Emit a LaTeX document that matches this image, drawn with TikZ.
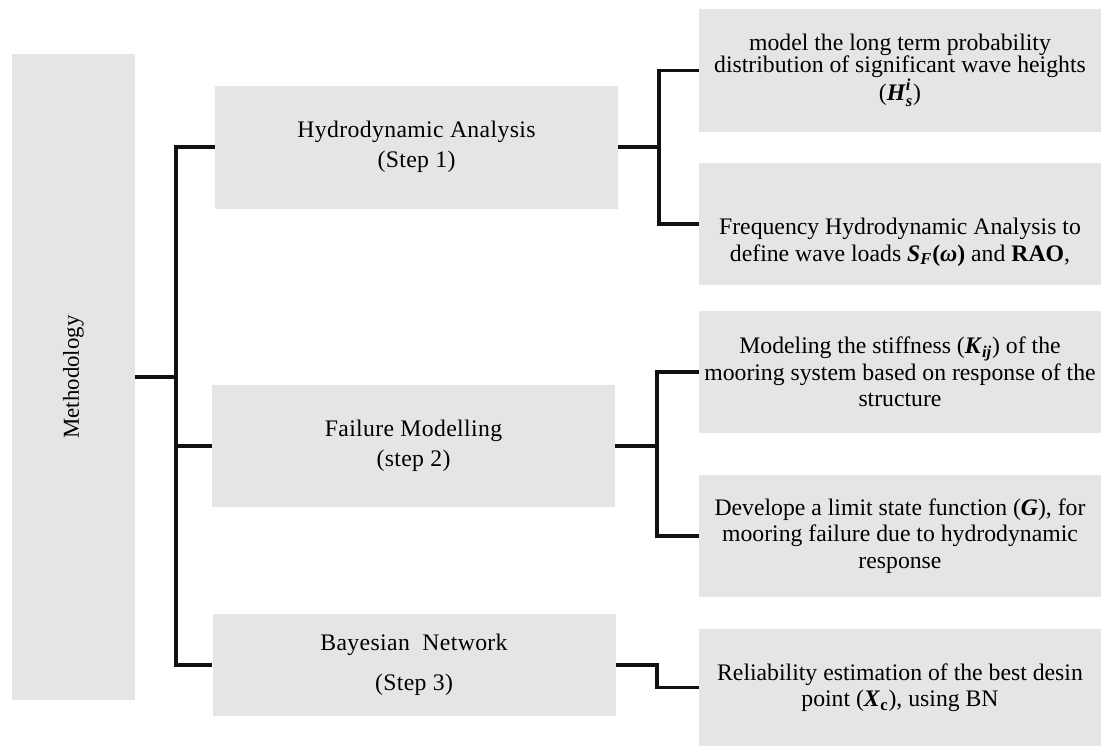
\documentclass[tikz,border=0pt]{standalone}
\usepackage{fontspec}
\usepackage{amsmath}
\setmainfont{Liberation Serif}
\usetikzlibrary{calc}
\definecolor{cBox}{HTML}{E5E5E5}
\definecolor{cInk}{HTML}{111111}
\newcommand{\bvar}[1]{\textbf{\textit{#1}}}

\begin{document}
\begin{tikzpicture}[
  root/.style={fill=cBox,minimum width=2.46cm,minimum height=12.92cm,inner sep=0pt,font=\fontsize{13}{15}\selectfont},
  stage/.style={fill=cBox,align=center,minimum width=8.06cm,minimum height=2.46cm,inner sep=0pt,font=\fontsize{13.5}{17}\selectfont\addfontfeature{LetterSpace=1.5}},
  task/.style={fill=cBox,align=center,minimum width=8.04cm,minimum height=2.44cm,inner sep=0pt,font=\fontsize{13.5}{15}\selectfont},
  link/.style={draw=cInk,line width=1.8pt}]
  \useasboundingbox (0,0) rectangle (22.04,-14.92);
  \node[root] (meth) at (1.47,-7.54) {\rotatebox{90}{Methodology}};
  \node[stage] (hydro) at (8.33,-2.94) {Hydrodynamic Analysis\\(Step 1)};
  \node[stage, minimum height=2.44cm] (fail) at (8.27,-8.92) {Failure Modelling\\(step 2)};
  \node[stage, minimum height=2.04cm] (bayes) at (8.28,-13.3) {Bayesian\ \ Network\\[5.5pt](Step 3)};
  \node[task, minimum height=2.46cm, font=\fontsize{13.5}{12.5}\selectfont] (wave) at (18.0,-1.41) {model the long term probability\\distribution of significant wave heights\\($\bvar{H}^{\bvar{i}}_{\bvar{s}}$)};
  \node[task] (load) at (18.0,-4.48) {\raisebox{-0.5cm}[0pt][0pt]{\begin{tabular}{@{}c@{}}Frequency Hydrodynamic Analysis to\\define wave loads $\bvar{S}_{\bvar{F}}$\textbf{(}\bvar{ω}\textbf{)} and \textbf{RAO},\end{tabular}}};
  \node[task] (stiff) at (18.0,-7.44) {Modeling the stiffness ($\bvar{K}_{\bvar{ij}}$) of the\\mooring system based on response of the\\structure};
  \node[task] (limit) at (18.0,-10.72) {Develope a limit state function (\bvar{G}), for\\mooring failure due to hydrodynamic\\response};
  \node[task, minimum height=2.34cm] (rel) at (18.0,-13.75) {Reliability estimation of the best desin\\point ($\bvar{X}_{\textbf{c}}$), using BN};
  \coordinate (tk) at (3.52,0); \coordinate (ba) at (13.18,0); \coordinate (bb) at (13.14,0);
  \draw[link] (meth.east) -- (tk |- meth.east); \draw[link] (hydro.west) -| (tk |- bayes.west) -- (bayes.west); \draw[link] (fail.west) -- (tk |- fail.west);
  \draw[link] (hydro.east) -- (ba |- hydro.east); \draw[link] (wave.west) -| (ba |- load.west) -- (load.west);
  \draw[link] (fail.east) -- (bb |- fail.east); \draw[link] (stiff.west) -| (bb |- limit.west) -- (limit.west);
  \draw[link] (bayes.east) -- (bb |- bayes.east) |- (rel.west);
\end{tikzpicture}
\end{document}
